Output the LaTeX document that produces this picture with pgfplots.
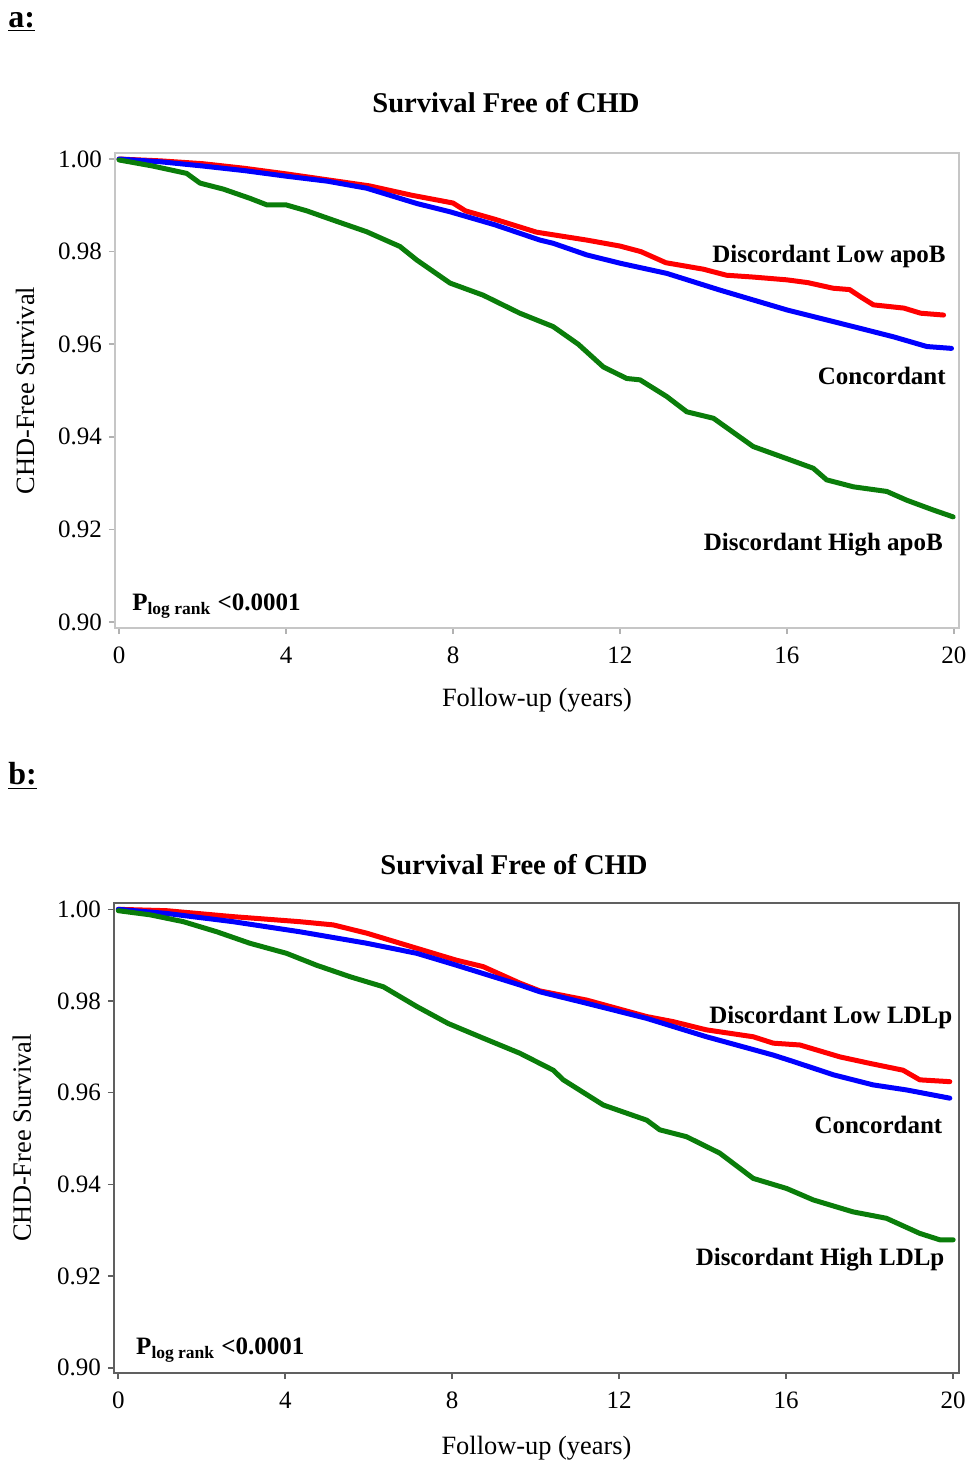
\documentclass[border=0pt]{standalone}
\usepackage{fontspec}
\setmainfont{Liberation Serif}
\usepackage{pgfplots}
\pgfplotsset{compat=1.18}
\definecolor{kmred}{RGB}{255,0,0}
\definecolor{kmblue}{RGB}{0,0,255}
\definecolor{kmgreen}{RGB}{10,125,10}
\pgfplotsset{
  kmstyle/.style={
    scale only axis, anchor=south west,
    tick align=outside, xtick pos=bottom, ytick pos=left,
    major tick length=3pt,
    xtick={0,4,8,12,16,20},
    ytick={0.90,0.92,0.94,0.96,0.98,1.00},
    yticklabel style={/pgf/number format/.cd, fixed, fixed zerofill, precision=2},
    xticklabel style={yshift=-3pt},
    /pgf/number format/assume math mode=true,
    tick label style={font=\fontsize{12.5}{14}\selectfont, text=black},
    label style={font=\fontsize{13.2}{15}\selectfont},
    xlabel={Follow-up (years)}, ylabel={CHD-Free Survival},
    every axis plot/.append style={line width=2.5pt, line join=round, line cap=round},
  },
}
\tikzset{lab/.style={anchor=east, inner sep=0pt, font=\bfseries\fontsize{12.5}{14}\selectfont}}
\begin{document}
\begin{tikzpicture}
\path[use as bounding box] (0pt,0pt) rectangle (484.5pt,-731.5pt);
\node[font=\bfseries\fontsize{16}{18}\selectfont, anchor=west, inner sep=0pt] at (4pt,-11pt) {\underline{a:}};
\node[font=\bfseries\fontsize{16}{18}\selectfont, anchor=west, inner sep=0pt] at (4pt,-388pt) {\underline{b:}};
\node[font=\bfseries\fontsize{14.3}{16}\selectfont] at (253pt,-51.5pt) {Survival Free of CHD};
\node[font=\bfseries\fontsize{14.3}{16}\selectfont] at (257pt,-432.5pt) {Survival Free of CHD};

% ---------------- panel a ----------------
\begin{axis}[kmstyle,
  at={(57.5pt,-314pt)}, width=422pt, height=237.5pt,
  xmin=-0.096, xmax=20.12, ymin=0.8987, ymax=1.0013,
  axis line style={gray!45, line width=0.8pt},
  tick style={gray!60, line width=0.8pt},
  xlabel style={at={(axis description cs:0.5,-0.152)}, anchor=center},
  ylabel style={at={(axis description cs:-0.1066,0.5)}, anchor=center},
]
\addplot[kmred] coordinates {
(0,1.0000) (1.0,0.9996) (2.0,0.9990) (3.0,0.9980) (4.0,0.9968) (5.0,0.9955)
(6.0,0.9942) (7.0,0.9922) (8.0,0.9905) (8.3,0.9888) (9.0,0.9870) (10.0,0.9842)
(11.2,0.9825) (12.0,0.9812) (12.5,0.9800) (13.1,0.9776) (14.0,0.9762) (14.55,0.9749)
(15.2,0.9745) (16.0,0.9739) (16.5,0.9733) (17.1,0.9721) (17.5,0.9718) (17.75,0.9703)
(18.07,0.9685) (18.8,0.9678) (19.2,0.9667) (19.75,0.9663)
};
\addplot[kmblue] coordinates {
(0,1.0000) (1,0.9994) (2,0.9985) (3,0.9975) (4,0.9963) (5,0.9952) (5.93,0.9937)
(7.13,0.9904) (7.93,0.9886) (9.0,0.9858) (10.08,0.9825) (10.4,0.9818) (11.2,0.9793)
(12.0,0.9775) (13.12,0.9753) (14.39,0.9717) (16.0,0.9674) (17.59,0.9638)
(18.55,0.9616) (19.35,0.9595) (19.94,0.9591)
};
\addplot[kmgreen] coordinates {
(0,0.9998) (0.8,0.9985) (1.62,0.9969) (1.94,0.9948) (2.5,0.9935) (3.14,0.9915)
(3.54,0.9901) (4.0,0.9901) (4.5,0.9888) (5.13,0.9868) (5.93,0.9843) (6.73,0.9811)
(7.13,0.9782) (7.93,0.9732) (8.72,0.9706) (9.6,0.9667) (10.4,0.9638) (11.0,0.9600)
(11.6,0.9551) (12.16,0.9526) (12.48,0.9523) (13.12,0.9487) (13.6,0.9454) (14.24,0.9440)
(15.19,0.9379) (15.99,0.9353) (16.63,0.9332) (16.95,0.9307) (17.59,0.9292)
(18.39,0.9282) (18.87,0.9263) (19.5,0.9242) (19.98,0.9227)
};
\node[lab] at (axis cs:19.81,0.9790) {Discordant Low apoB};
\node[lab] at (axis cs:19.81,0.9531) {Concordant};
\node[lab] at (axis cs:19.74,0.9168) {Discordant High apoB};
\node[anchor=west, font=\bfseries\fontsize{12.5}{14}\selectfont, inner sep=0pt] at (axis cs:0.31,0.9035) {P\textsubscript{log rank} <0.0001};
\end{axis}

% ---------------- panel b ----------------
\begin{axis}[kmstyle,
  at={(57pt,-686.5pt)}, width=422.5pt, height=235.15pt,
  xmin=-0.103, xmax=20.14, ymin=0.89884, ymax=1.00144,
  axis line style={gray!75!black, line width=0.8pt},
  tick style={gray!75!black, line width=0.8pt},
  xlabel style={at={(axis description cs:0.5,-0.16)}, anchor=center},
  ylabel style={at={(axis description cs:-0.109,0.5)}, anchor=center},
]
\addplot[kmred] coordinates {
(0,1.0000) (1.16,0.9997) (2.75,0.9984) (4.35,0.9973) (5.15,0.9966) (5.95,0.9948)
(7.15,0.9915) (8.1,0.9889) (8.74,0.9875) (9.62,0.9839) (10.1,0.9822) (11.22,0.9802)
(12.66,0.9766) (13.29,0.9755) (14.09,0.9737) (15.21,0.9722) (15.69,0.9708)
(16.33,0.9704) (17.29,0.9678) (18.0,0.9664) (18.8,0.9649) (19.2,0.9628) (19.92,0.9624)
};
\addplot[kmblue] coordinates {
(0,1.0000) (1.16,0.9991) (2.75,0.9973) (4.35,0.9951) (5.95,0.9926) (7.15,0.9904)
(8.1,0.9878) (9.62,0.9835) (10.1,0.9820) (11.22,0.9795) (12.66,0.9762) (14.09,0.9722)
(15.69,0.9682) (16.17,0.9668) (17.13,0.9639) (18.08,0.9617) (18.88,0.9606) (19.92,0.9588)
};
\addplot[kmgreen] coordinates {
(0,0.9997) (0.76,0.9988) (1.56,0.9973) (2.36,0.9951) (3.15,0.9926) (4.03,0.9904)
(4.75,0.9878) (5.55,0.9853) (6.35,0.9831) (7.15,0.9788) (7.9,0.9751) (8.74,0.9719)
(9.62,0.9686) (10.42,0.9649) (10.66,0.9628) (11.62,0.9573) (12.66,0.9540)
(12.97,0.9519) (13.61,0.9504) (14.41,0.9468) (15.21,0.9413) (16.01,0.9391)
(16.65,0.9366) (17.6,0.9340) (18.4,0.9326) (19.2,0.9293) (19.68,0.9279) (20.0,0.9279)
};
\node[lab] at (axis cs:19.99,0.9765) {Discordant Low LDLp};
\node[lab] at (axis cs:19.75,0.9529) {Concordant};
\node[lab] at (axis cs:19.80,0.9235) {Discordant High LDLp};
\node[anchor=west, font=\bfseries\fontsize{12.5}{14}\selectfont, inner sep=0pt] at (axis cs:0.42,0.9039) {P\textsubscript{log rank} <0.0001};
\end{axis}
\end{tikzpicture}
\end{document}
